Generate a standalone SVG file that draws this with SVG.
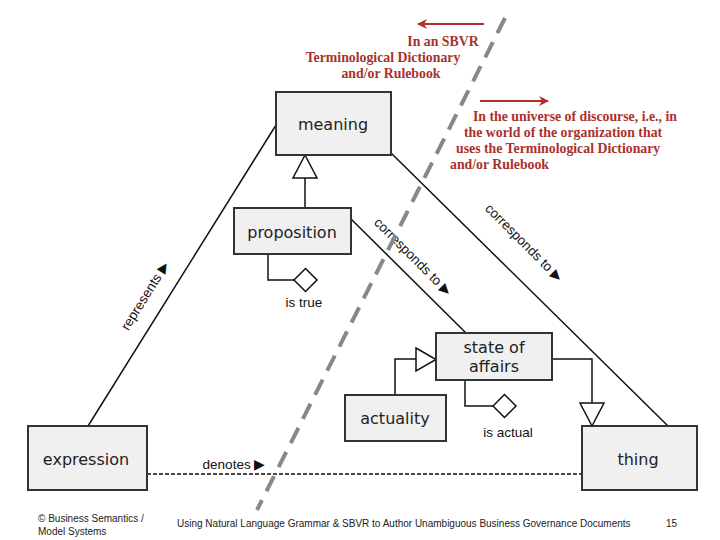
<svg xmlns="http://www.w3.org/2000/svg" width="720" height="540" viewBox="0 0 720 540">
<style>
.box{fill:#f0f0f0;stroke:#333;stroke-width:2}
.lbl{font-family:"DejaVu Sans",Verdana,sans-serif;font-size:16px;fill:#222;text-anchor:middle}
.ln{stroke:#111;stroke-width:1.5;fill:none}
.sm{font-family:"Liberation Sans",Arial,sans-serif;font-size:13.5px;fill:#111}
.red{font-family:"Liberation Serif","DejaVu Serif",serif;font-weight:bold;font-size:13.8px;fill:#a8322a}
.ft{font-family:"Liberation Sans",Arial,sans-serif;font-size:10px;fill:#222}
.open{fill:#fff;stroke:#111;stroke-width:1.5}
</style>
<defs>
<marker id="redarrow" viewBox="0 0 10 10" refX="9" refY="5" markerWidth="6" markerHeight="5" orient="auto" markerUnits="strokeWidth">
<path d="M0,0 L10,5 L0,10 L3,5 z" fill="#b0302a"/>
</marker>
</defs>
<rect width="720" height="540" fill="#fff"/>
<g id="connectors">
<line class="ln" x1="88" y1="426" x2="276" y2="125"/>
<line class="ln" x1="390" y1="152" x2="668" y2="426"/>
<line class="ln" x1="351" y1="219" x2="466" y2="333"/>
<line x1="147" y1="474" x2="582" y2="474" stroke="#111" stroke-width="1.5" stroke-dasharray="4,2"/>
<polyline class="ln" points="305,208 305,178"/>
<polygon class="open" points="305,155 293,178 317,178"/>
<polyline class="ln" points="268,254 268,280 294,280"/>
<polygon class="open" points="294,280 305.5,268.5 317,280 305.5,291.5"/>
<polyline class="ln" points="465,380 465,406 493,406"/>
<polygon class="open" points="493,406 504.5,394.5 516,406 504.5,417.5"/>
<polyline class="ln" points="395,395 395,359 416,359"/>
<polygon class="open" points="416,348 436,359.5 416,371"/>
<polyline class="ln" points="552,359 592,359 592,403"/>
<polygon class="open" points="580,403 604,403 592,426"/>
<text class="sm" transform="translate(149,298) rotate(-58)" text-anchor="middle">represents ▶</text>
<text class="sm" transform="translate(410,260) rotate(45)" text-anchor="middle">corresponds to ▶</text>
<text class="sm" transform="translate(521,246) rotate(45)" text-anchor="middle">corresponds to ▶</text>
<text class="sm" x="234" y="469" text-anchor="middle">denotes ▶</text>
<text class="sm" x="304" y="307" text-anchor="middle">is true</text>
<text class="sm" x="508" y="437" text-anchor="middle">is actual</text>
</g>
<line x1="505" y1="18" x2="257" y2="510" stroke="#888" stroke-width="4" stroke-dasharray="17,10"/>
<g id="meaning"><rect class="box" x="276" y="92" width="115" height="63"/><text class="lbl" x="333" y="130">meaning</text></g>
<g id="proposition"><rect class="box" x="234" y="208" width="117" height="46"/><text class="lbl" x="292" y="238">proposition</text></g>
<g id="state-of-affairs"><rect class="box" x="436" y="333" width="116" height="47"/><text class="lbl" x="494" y="353">state of</text><text class="lbl" x="494" y="372">affairs</text></g>
<g id="actuality"><rect class="box" x="345" y="395" width="101" height="46"/><text class="lbl" x="395" y="424">actuality</text></g>
<g id="expression"><rect class="box" x="28" y="426" width="119" height="64"/><text class="lbl" x="86" y="465">expression</text></g>
<g id="thing"><rect class="box" x="582" y="426" width="115" height="64"/><text class="lbl" x="638" y="465">thing</text></g>
<g id="annotations">
<line x1="484" y1="24" x2="418" y2="24" stroke="#b0302a" stroke-width="2" marker-end="url(#redarrow)"/>
<line x1="480" y1="101" x2="548" y2="101" stroke="#b0302a" stroke-width="2" marker-end="url(#redarrow)"/>
<text class="red" x="443" y="46" text-anchor="middle">In an SBVR</text>
<text class="red" x="383" y="62" text-anchor="middle">Terminological Dictionary</text>
<text class="red" x="391" y="78" text-anchor="middle">and/or Rulebook</text>
<text class="red" x="473" y="121">In the universe of discourse, i.e., in</text>
<text class="red" x="464" y="137">the world of the organization that</text>
<text class="red" x="456" y="153">uses the Terminological Dictionary</text>
<text class="red" x="450" y="169">and/or Rulebook</text>
</g>
<g id="footer">
<text class="ft" x="38" y="522">© Business Semantics /</text>
<text class="ft" x="38" y="535">Model Systems</text>
<text class="ft" x="177" y="527">Using Natural Language Grammar &amp; SBVR to Author Unambiguous Business Governance Documents</text>
<text class="ft" x="666" y="527">15</text>
</g>
</svg>
